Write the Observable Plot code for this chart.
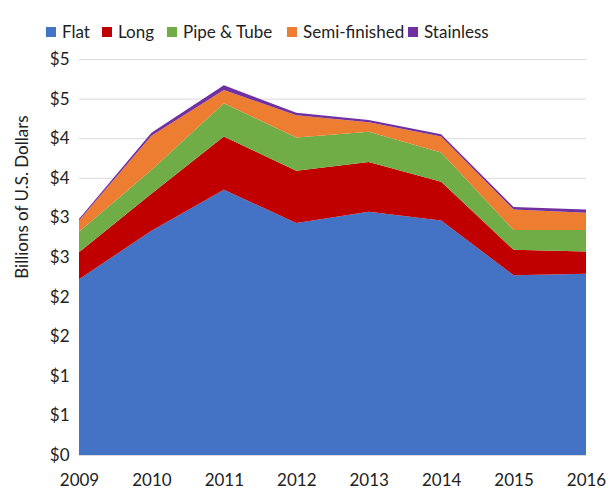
<!DOCTYPE html>
<html><head><meta charset="utf-8">
<script src="https://cdn.jsdelivr.net/npm/d3@7"></script>
<script src="https://cdn.jsdelivr.net/npm/@observablehq/plot@0.6"></script>
<style>
body{margin:0;background:#fff;font-family:Lato,"Open Sans",sans-serif;}
#legend{position:relative;height:44px;width:616px;}
.item{position:absolute;top:21px;display:flex;align-items:center;font-size:17px;color:#222;}
.sw{width:10px;height:10px;margin-right:6px;}
</style></head><body>
<div id="legend"></div>
<div id="chart"></div>
<script>
const years = [2009, 2010, 2011, 2012, 2013, 2014, 2015, 2016];
const types = ["Flat", "Long", "Pipe & Tube", "Semi-finished", "Stainless"];
const colors = ["#4472C4", "#C00000", "#70AD47", "#ED7D31", "#7030A0"];
const flat = [2.22, 2.83, 3.35, 2.93, 3.07, 2.96, 2.27, 2.29];
const long = [0.34, 0.47, 0.67, 0.66, 0.63, 0.49, 0.32, 0.28];
const pipe = [0.26, 0.30, 0.42, 0.42, 0.38, 0.37, 0.25, 0.27];
const semi = [0.14, 0.43, 0.17, 0.28, 0.12, 0.20, 0.26, 0.22];
const stainless = [0.02, 0.04, 0.06, 0.03, 0.03, 0.03, 0.03, 0.04];
const yTicks = [0, 0.5, 1, 1.5, 2, 2.5, 3, 3.5, 4, 4.5, 5];
const legendX = [46, 102, 167, 287, 408];

const series = [flat, long, pipe, semi, stainless];
const data = [];
types.forEach((t, i) => years.forEach((yr, j) => data.push({year: yr, type: t, value: series[i][j]})));

const leg = document.getElementById("legend");
types.forEach((t, i) => {
  const d = document.createElement("div");
  d.className = "item";
  d.style.left = legendX[i] + "px";
  d.innerHTML = `<span class="sw" style="background:${colors[i]}"></span><span>${t}</span>`;
  leg.appendChild(d);
});

const plot = Plot.plot({
  width: 616,
  height: 450,
  marginTop: 15,
  marginBottom: 39,
  marginLeft: 79,
  marginRight: 30,
  style: {fontFamily: "Lato, 'Open Sans', sans-serif", fontSize: "17px", color: "#222"},
  x: {type: "linear", domain: [2009, 2016], ticks: years, tickFormat: d => String(d), tickSize: 0, tickPadding: 18, label: null},
  y: {domain: [0, 5], ticks: yTicks, tickFormat: d => "$" + Math.round(d), tickSize: 0, tickPadding: 10, label: null},
  color: {domain: types, range: colors},
  marks: [
    Plot.ruleY(yTicks, {stroke: "#d9d9d9", strokeWidth: 1}),
    Plot.areaY(data, {x: "year", y: "value", fill: "type", z: "type", order: types, curve: "linear"}),
    Plot.axisX({ticks: years, tickFormat: d => String(d), tickSize: 0, tickPadding: 18, fontSize: 17}),
    Plot.axisY({ticks: yTicks, tickFormat: d => "$" + Math.round(d), tickSize: 0, tickPadding: 10, fontSize: 17})
  ]
});
d3.select(plot).append("text")
  .attr("transform", "translate(28,153) rotate(-90)")
  .attr("text-anchor", "middle")
  .attr("fill", "#222")
  .style("font-size", "17px")
  .text("Billions of U.S. Dollars");
document.getElementById("chart").appendChild(plot);
</script>
</body></html>
